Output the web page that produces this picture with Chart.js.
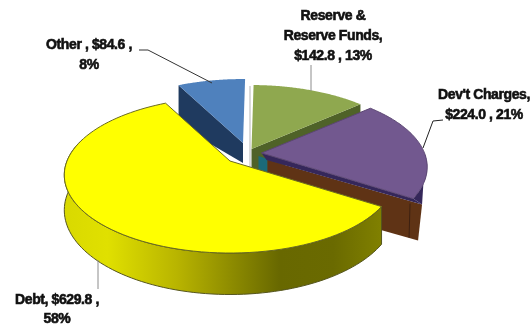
<!DOCTYPE html>
<html>
<head>
<meta charset="utf-8">
<style>html,body{margin:0;padding:0;background:#fff}canvas{display:block}</style>
<script src="https://cdn.jsdelivr.net/npm/chart.js@4"></script>
</head>
<body>
<canvas id="c" width="531" height="326"></canvas>
<script>
// Budget sources, in $ millions
const categories = ["Debt", "Other", "Reserve & Reserve Funds", "Dev't Charges"];
const amounts = [629.8, 84.6, 142.8, 224.0];
const percents = [58, 8, 13, 21];
const sliceColors = ["#ffff00", "#4f81bd", "#8fa84f", "#72588f"];

// Callout text, one list of lines per slice
const labelLines = [
  ["Debt, $629.8 ,", "58%"],
  ["Other , $84.6 ,", "8%"],
  ["Reserve &", "Reserve Funds,", "$142.8 , 13%"],
  ["Dev't Charges,", "$224.0 , 21%"]
];
const labelAnchors = [[57, 300, 19], [89, 45, 20], [333, 16, 20], [484, 95, 20]];
const leaders = [
  {color: "#8c8c8c", pts: [[98, 260], [98, 289]]},
  {color: "#333333", pts: [[139, 50], [148, 50], [212, 83]]},
  {color: "#8c8c8c", pts: [[311, 65], [311, 91]]},
  {color: "#222222", pts: [[443, 120], [433, 121], [423, 148]]}
];

// Explosion of each slice from the chart centre, in pixels
const explode = [[-35.5, -2], [-22.5, -20], [-14, -14], [-4, -10]];
const TILT = 0.463, PERSPECTIVE = 0.18, WALL = 34;

function rimPoint(arc, i, t) {
  const w = 1 - PERSPECTIVE * Math.sin(t);
  return [
    arc.x + explode[i][0] + arc.outerRadius * Math.cos(t) / w,
    arc.y + explode[i][1] + arc.outerRadius * TILT * Math.sin(t) / w,
    w
  ];
}
function apex(arc, i) { return [arc.x + explode[i][0], arc.y + explode[i][1]]; }
function poly(ctx, pts, fill, stroke) {
  ctx.beginPath();
  pts.forEach((p, k) => k ? ctx.lineTo(p[0], p[1]) : ctx.moveTo(p[0], p[1]));
  ctx.closePath();
  ctx.fillStyle = fill;
  ctx.fill();
  if (stroke) { ctx.strokeStyle = stroke; ctx.lineWidth = 1; ctx.stroke(); }
}
function rimRun(arc, i, a0, a1) {
  const pts = [], n = 90;
  for (let k = 0; k <= n; k++) pts.push(rimPoint(arc, i, a0 + (a1 - a0) * k / n));
  return pts;
}
function topFace(ctx, arc, i, stroke) {
  poly(ctx, [apex(arc, i), ...rimRun(arc, i, arc.startAngle, arc.endAngle)], arc.options.backgroundColor, stroke);
}
const shift = (p, dx, dy) => [p[0] + dx, p[1] + dy];

// Extruded, tilted pie: takes the angles from the arc elements and projects them
const pie3d = {
  id: "pie3d",
  beforeDatasetDraw(chart) {
    const ctx = chart.ctx;
    const [debt, other, reserve, dev] = chart.getDatasetMeta(0).data;
    ctx.save();
    ctx.lineJoin = "round";

    // Other: cut face toward the front
    const oA = apex(other, 1), oL = rimPoint(other, 1, other.startAngle);
    poly(ctx, [oA, oL, shift(oL, 0, 40), shift(oA, 0, 20)], "#1f3a5f");
    topFace(ctx, other, 1);

    // Reserve: thin cut face, mostly hidden behind the next slice
    const rA = apex(reserve, 2), rE = rimPoint(reserve, 2, reserve.endAngle);
    poly(ctx, [rA, rE, shift(rE, 0, 30), shift(rA, 0, 30)], "#4f6228");
    topFace(ctx, reserve, 2);
    ctx.strokeStyle = "#b5b5b5";
    ctx.lineWidth = 1;
    ctx.beginPath();
    ctx.moveTo(rA[0] - 1.5, rA[1] + 20);
    ctx.lineTo(rA[0] - 1.5, rA[1] - 63);
    ctx.stroke();

    // Dev't Charges: teal sliver, brown cut face, dark band and rim
    const dA = apex(dev, 3), dP = rimPoint(dev, 3, dev.endAngle);
    poly(ctx, [shift(dA, -3, 3), shift(dA, 6, 6), shift(dA, 6, 22), shift(dA, -3, 20)], "#1b6a78");
    poly(ctx, [shift(dA, 6, 7), shift(dP, 9, 6), shift(dP, 5, 42), shift(dA, 6, 45)], "#5f3315");
    ctx.strokeStyle = "#3d2010";
    ctx.beginPath();
    ctx.moveTo(dP[0] - 3, dP[1] + 5);
    ctx.lineTo(dP[0] - 4, dP[1] + 39);
    ctx.stroke();
    poly(ctx, [dA, dP, shift(dP, 9, 6), shift(dA, 5, 7)], "#35275a");
    poly(ctx, [...rimRun(dev, 3, dev.endAngle - 0.55, dev.endAngle), shift(dP, 9, 6)], "#35275a");
    topFace(ctx, dev, 3, "#5b4672");

    // Debt: shaded outer wall, then the top face
    const a0 = debt.startAngle, a1 = 3.45;
    const top = rimRun(debt, 0, a0, a1);
    const bottom = top.map(p => [p[0], p[1] + WALL / p[2]]).reverse();
    const g = ctx.createLinearGradient(63, 0, 381, 0);
    g.addColorStop(0, "#d9d900");
    g.addColorStop(0.14, "#e0e000");
    g.addColorStop(0.36, "#b8b400");
    g.addColorStop(0.68, "#686800");
    g.addColorStop(0.85, "#6a6a00");
    g.addColorStop(1, "#808000");
    poly(ctx, [...top, ...bottom], g, "#55551e");
    topFace(ctx, debt, 0, "#6a6a20");

    ctx.restore();
    return false;
  },
  afterDraw(chart) {
    const ctx = chart.ctx;
    ctx.save();
    leaders.forEach(l => {
      ctx.beginPath();
      l.pts.forEach((p, k) => k ? ctx.lineTo(p[0], p[1]) : ctx.moveTo(p[0], p[1]));
      ctx.strokeStyle = l.color;
      ctx.lineWidth = 1;
      ctx.stroke();
    });
    ctx.font = "bold 14px 'Liberation Sans'";
    ctx.letterSpacing = "-0.4px";
    ctx.textAlign = "center";
    ctx.textBaseline = "middle";
    ctx.fillStyle = "#111";
    ctx.strokeStyle = "#111";
    ctx.lineWidth = 0.6;
    labelLines.forEach((lines, i) => {
      const [x, y, step] = labelAnchors[i];
      lines.forEach((t, k) => { ctx.fillText(t, x, y + k * step); ctx.strokeText(t, x, y + k * step); });
    });
    ctx.restore();
  }
};

new Chart(document.getElementById("c"), {
  type: "pie",
  data: {
    labels: categories,
    datasets: [{data: amounts, backgroundColor: sliceColors, borderWidth: 0}]
  },
  options: {
    responsive: false,
    animation: false,
    rotation: 123,
    layout: {padding: 0},
    plugins: {legend: {display: false}, tooltip: {enabled: false}}
  },
  plugins: [pie3d]
});
</script>
</body>
</html>
